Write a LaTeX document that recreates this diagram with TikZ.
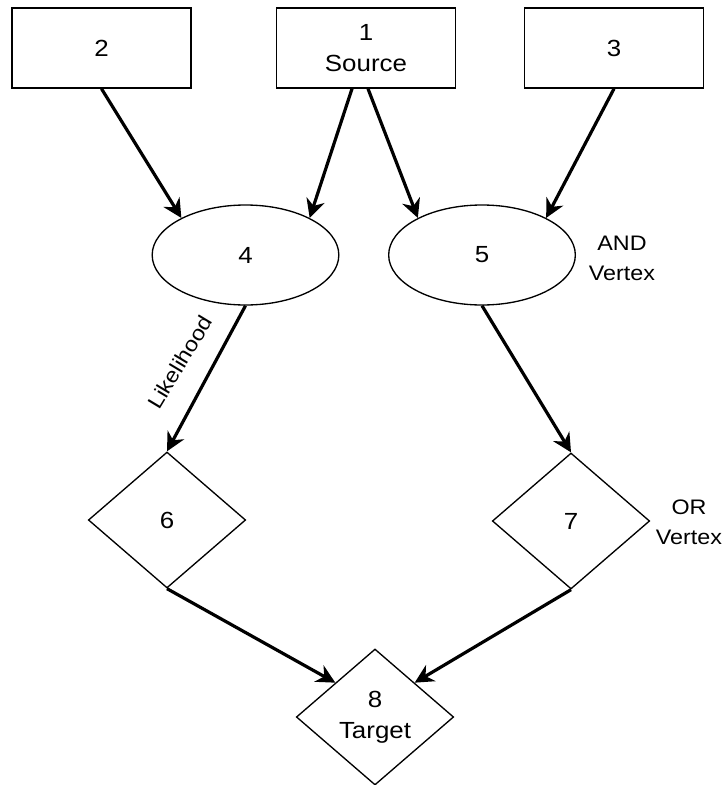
\documentclass[tikz,border=0pt]{standalone}
\usepackage{fontspec}
\setmainfont{Liberation Sans}[FakeStretch=1.11]
\usetikzlibrary{shapes.geometric,arrows.meta,calc}

\tikzset{
  boxnode/.style={draw, line width=1.1pt, rectangle, minimum width=134pt, minimum height=60pt, inner sep=0pt, align=center},
  andnode/.style={draw, line width=1pt, ellipse, minimum width=140pt, minimum height=75pt, inner sep=0pt},
  ornode/.style={draw, line width=1pt, diamond, minimum width=118pt, minimum height=102pt, inner sep=0pt, align=center},
  tag/.style={align=center, inner sep=0pt, font=\fontsize{15.75}{22.5}\selectfont},
  link/.style={line width=2.4pt, -{Stealth[length=14pt, width=14pt, inset=4.5pt]}},
}

\begin{document}
\begin{tikzpicture}[x=0.75pt, y=-0.75pt, font=\fontsize{17.5}{23.5}\selectfont]
\useasboundingbox (0,0) rectangle (726,785);

% source and input boxes
\node[boxnode] (b2) at (101.5,48) {2};
\node[boxnode] (b1) at (366,48) {1\\Source};
\node[boxnode] (b3) at (614,48) {3};

% AND vertices
\node[andnode] (e4) at (245.5,255) {4};
\node[andnode] (e5) at (482,255) {5};
\node[tag] (andtag) at (622,258) {AND\\Vertex};

% OR vertices
\node[ornode] (d6) at (167,520) {6};
\node[ornode] (d7) at (571,521) {7};
\node[tag] (ortag) at (689,522) {OR\\Vertex};
\node[ornode] (d8) at (375,717) {8\\Target};

% edge label
\node[inner sep=0pt, rotate=59, font=\fontsize{15.75}{20}\selectfont] (lik) at (180,362) {Likelihood};

% connectors
\draw[link] (b2.south) -- (e4.150);
\draw[link] ([xshift=-10.5pt]b1.south) -- (e4.30);
\draw[link] ([xshift=1.5pt]b1.south) -- (e5.150);
\draw[link] (b3.south) -- (e5.30);
\draw[link] (e4.south) -- (d6.north);
\draw[link] (e5.south) -- (d7.north);
\draw[link] (d6.south) -- ($(d8.north)!0.5!(d8.west)$);
\draw[link] (d7.south) -- ($(d8.north)!0.5!(d8.east)$);
\end{tikzpicture}
\end{document}
